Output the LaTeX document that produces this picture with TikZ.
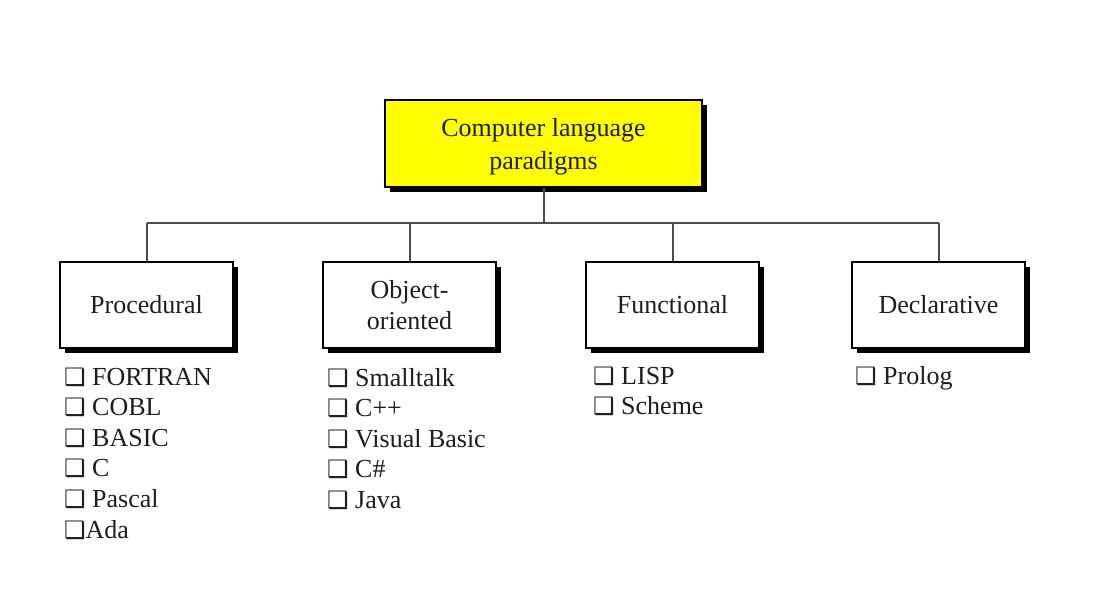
\documentclass[tikz,border=0pt]{standalone}
\usepackage{fontspec}
\setmainfont{Liberation Serif}
\newfontfamily\dejavu{DejaVu Sans}
\usetikzlibrary{shadows}
\newcommand{\chk}{{\dejavu\fontsize{24}{24}\selectfont ❑}}
\definecolor{rootyellow}{RGB}{255,255,0}
\definecolor{txt}{RGB}{30,30,30}
\tikzset{
  box/.style={draw=black, line width=2pt, fill=white, minimum width=173pt, minimum height=86pt,
    align=center, text=txt, font=\fontsize{26}{31}\selectfont,
    drop shadow={shadow xshift=5pt, shadow yshift=-5pt, fill=black, opacity=1}},
  rootbox/.style={box, fill=rootyellow, minimum width=317pt, minimum height=87pt, font=\fontsize{26}{33}\selectfont},
  conn/.style={draw=black!70, line width=2pt},
  item/.style={anchor=base west, inner sep=0pt, text=txt, font=\fontsize{26}{31}\selectfont}
}
\begin{document}
\begin{tikzpicture}[x=1pt, y=-1pt]
\useasboundingbox[fill=white] (0,0) rectangle (1111,610);
\node[rootbox] (root) at (543.5,143.5) {\rule{0pt}{24pt}Computer language\\paradigms};
\node[box] (proc) at (146.5,305) {Procedural};
\node[box] (oo) at (409.5,305) {Object-\\oriented};
\node[box] (func) at (672.5,305) {Functional};
\node[box] (decl) at (938.5,305) {Declarative};
\coordinate (busL) at (146.5,223);
\coordinate (busR) at (938.5,223);
\draw[conn] (busL) -- (busR);
\draw[conn] (root.south) -- (root.south |- busL);
\draw[conn] (proc.north) -- (busL);
\draw[conn] (oo.north) -- (oo.north |- busL);
\draw[conn] (func.north) -- (func.north |- busL);
\draw[conn] (decl.north) -- (busR);
\foreach \t [count=\i] in {\chk\ FORTRAN, \chk\ COBL, \chk\ BASIC, \chk\ C, \chk\ Pascal, \chk Ada}
  \node[item] (p\i) at (64, {385+30.6*(\i-1)}) {\t};
\foreach \t [count=\i] in {Smalltalk, C++, Visual Basic, C\#, Java}
  \node[item] (o\i) at (327, {386+30.6*(\i-1)}) {\chk\ \t};
\foreach \t [count=\i] in {LISP, Scheme}
  \node[item] (f\i) at (593, {384+30.6*(\i-1)}) {\chk\ \t};
\node[item] (d1) at (855,384) {\chk\ Prolog};
\end{tikzpicture}
\end{document}
